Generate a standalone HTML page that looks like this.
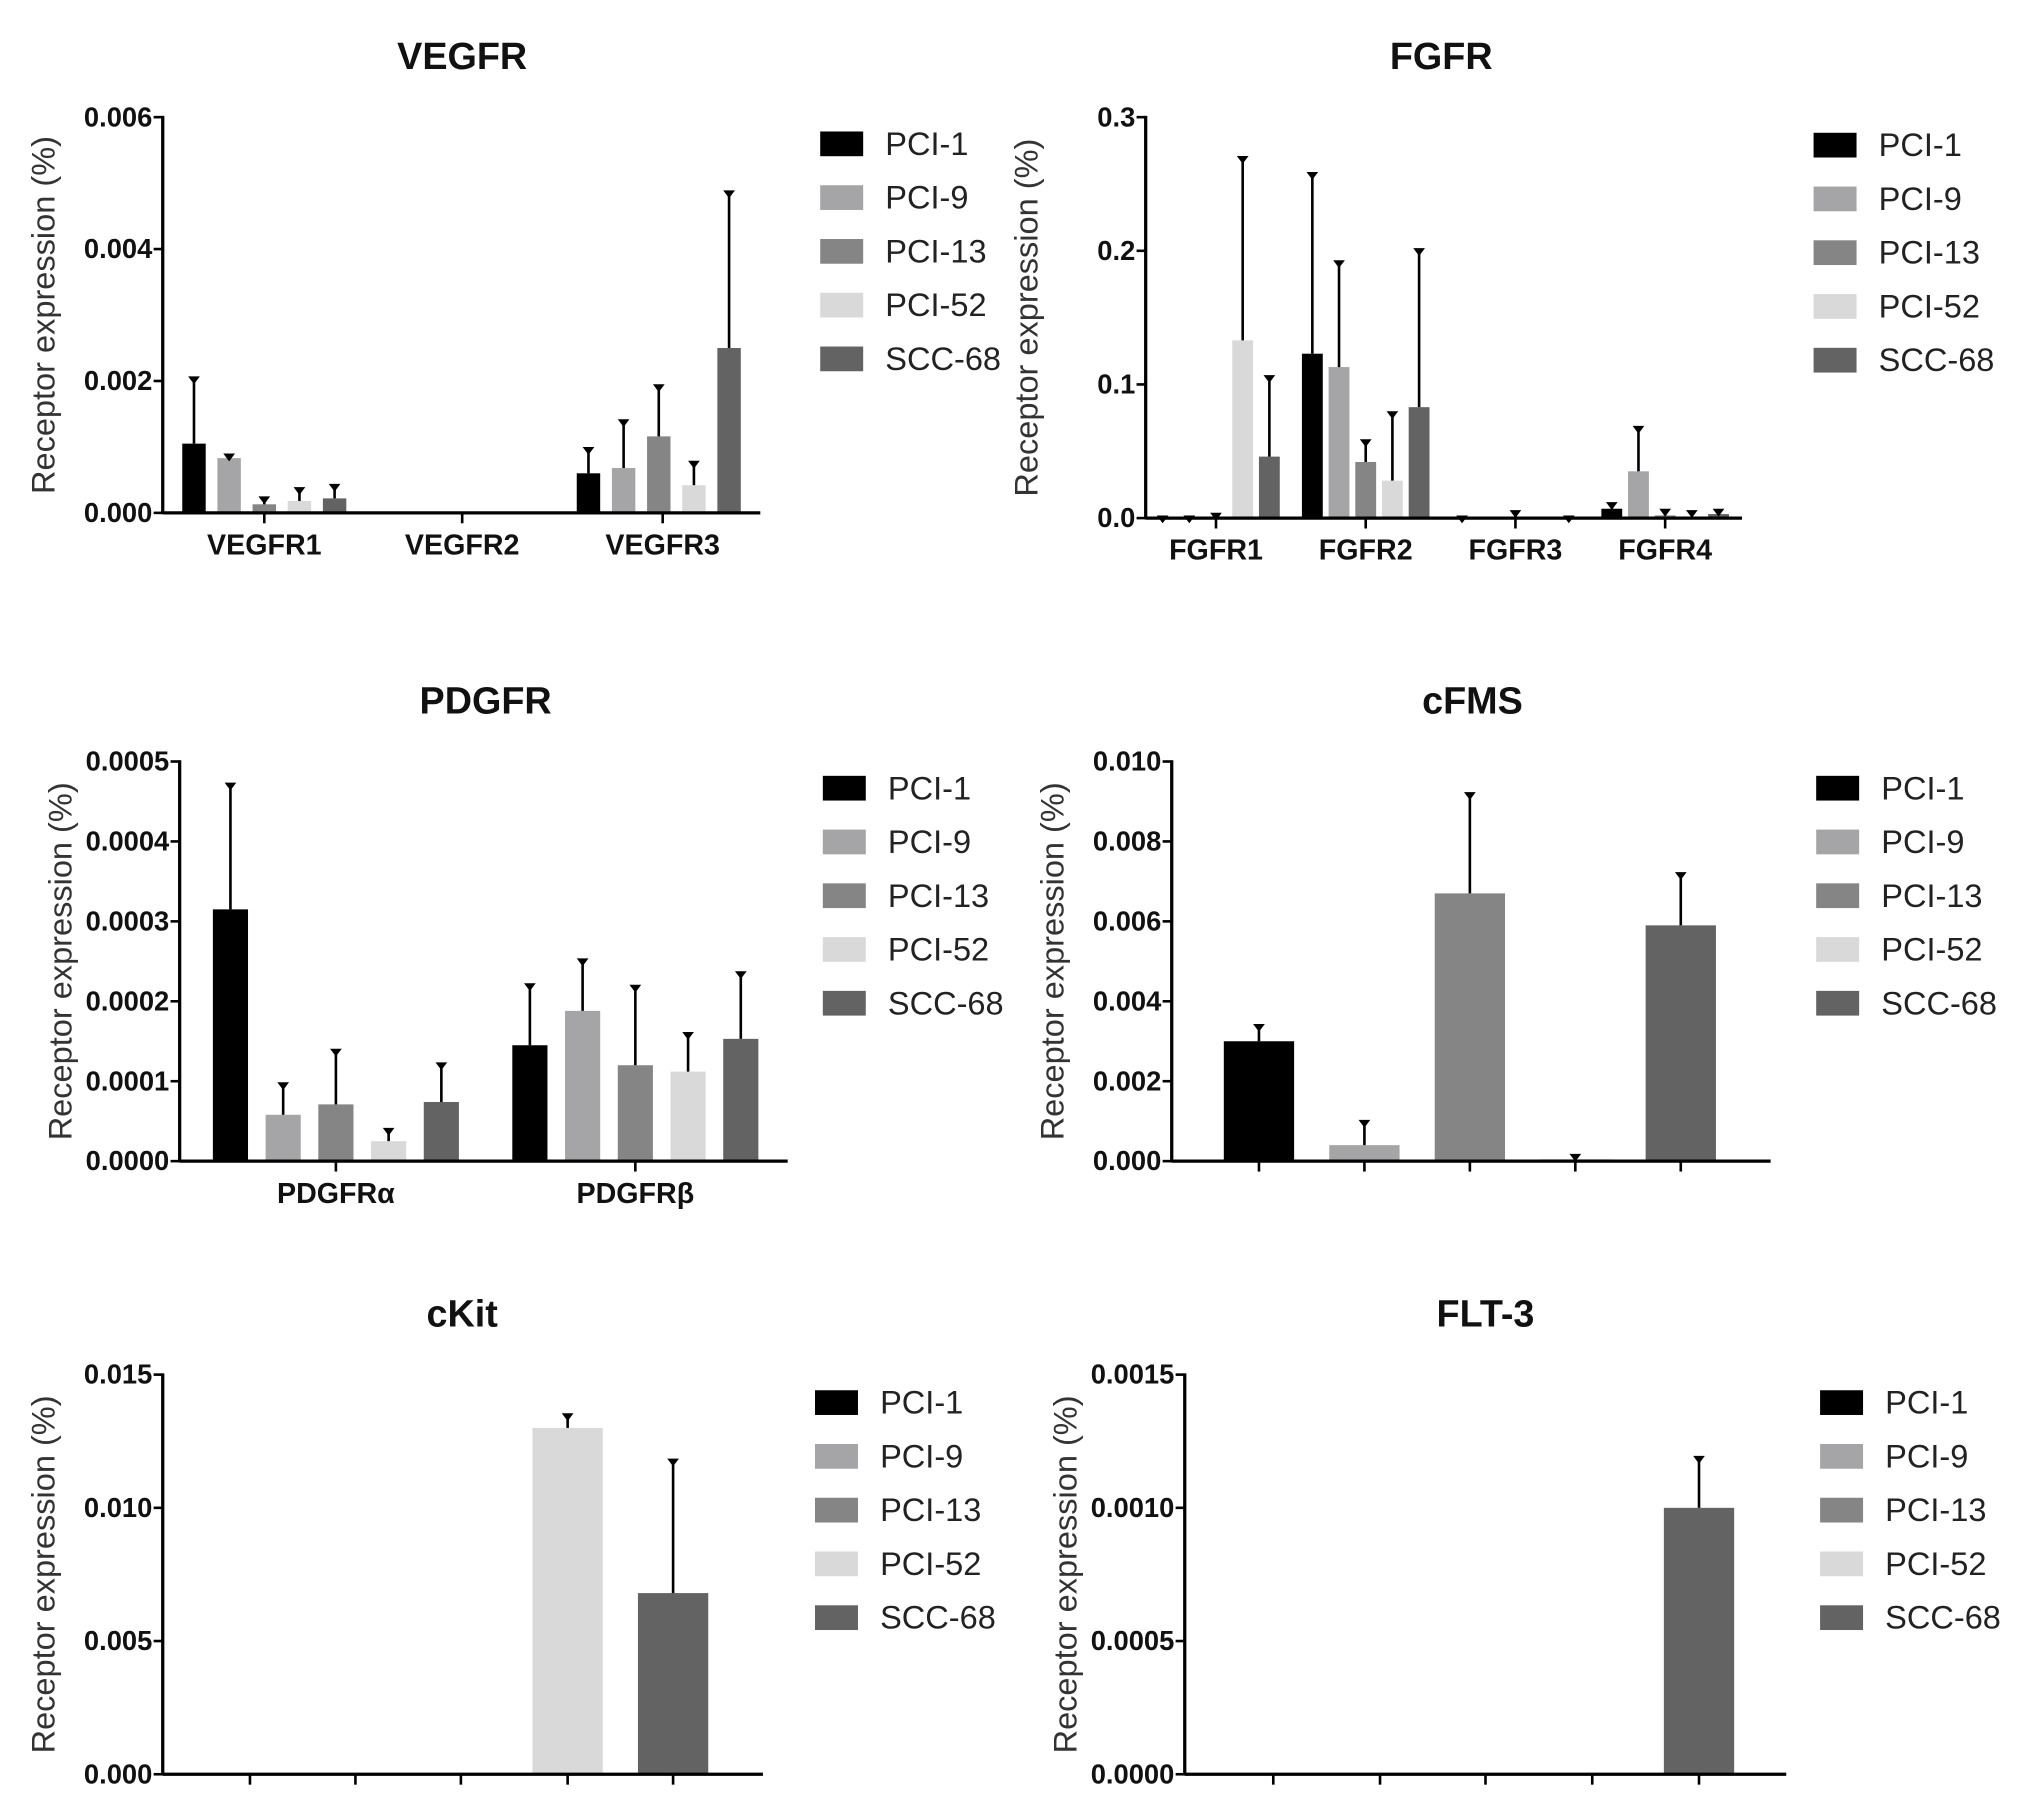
<!DOCTYPE html>
<html><head><meta charset="utf-8"><style>
html,body{margin:0;padding:0;background:#fff;}
svg{display:block;}
text{font-family:"Liberation Sans",Arial,sans-serif;}
</style></head><body>
<svg id="fig" width="2031" height="1812" viewBox="0 0 1560 1392" preserveAspectRatio="none" xmlns="http://www.w3.org/2000/svg"></svg>
<script>
const series = ["PCI-1","PCI-9","PCI-13","PCI-52","SCC-68"];
const colors = ["#000000","#a5a5a8","#858585","#d9d9d9","#636363"];

const vegfrCats = ["VEGFR1","VEGFR2","VEGFR3"];
const vegfrVals = [[0.00105,0.00083,0.00013,0.00018,0.00022],[0,0,0,0,0],[0.0006,0.00068,0.00116,0.00042,0.0025]];
const vegfrErr = [[0.00205,0.00088,0.00023,0.00037,0.00042],[0,0,0,0,0],[0.00098,0.0014,0.00193,0.00077,0.00487]];
const vegfrTicks = ["0.000","0.002","0.004","0.006"];

const fgfrCats = ["FGFR1","FGFR2","FGFR3","FGFR4"];
const fgfrVals = [[0,0,0.001,0.133,0.046],[0.123,0.113,0.042,0.028,0.083],[0.0005,0,0.001,0,0],[0.007,0.035,0.002,0,0.003]];
const fgfrErr = [[0.001,0.001,0.003,0.27,0.106],[0.258,0.192,0.058,0.079,0.201],[0.001,0,0.005,0,0.001],[0.011,0.068,0.006,0.005,0.006]];
const fgfrTicks = ["0.0","0.1","0.2","0.3"];

const pdgfrCats = ["PDGFRα","PDGFRβ"];
const pdgfrVals = [[0.000315,0.000058,0.000071,0.000025,0.000074],[0.000145,0.000188,0.00012,0.000112,0.000153]];
const pdgfrErr = [[0.000472,0.000097,0.000139,0.00004,0.000122],[0.000221,0.000252,0.000219,0.00016,0.000236]];
const pdgfrTicks = ["0.0000","0.0001","0.0002","0.0003","0.0004","0.0005"];

const cfmsVals = [0.003,0.0004,0.0067,0.00005,0.0059];
const cfmsErr = [0.0034,0.001,0.0092,0.00015,0.0072];
const cfmsTicks = ["0.000","0.002","0.004","0.006","0.008","0.010"];

const ckitVals = [0,0,0,0.013,0.0068];
const ckitErr = [0,0,0,0.0135,0.0118];
const ckitTicks = ["0.000","0.005","0.010","0.015"];

const flt3Vals = [0,0,0,0,0.001];
const flt3Err = [0,0,0,0,0.00119];
const flt3Ticks = ["0.0000","0.0005","0.0010","0.0015"];

const NS="http://www.w3.org/2000/svg";
const svg=document.getElementById('fig');
function mk(tag,attrs,parent){const e=document.createElementNS(NS,tag);for(const k in attrs)e.setAttribute(k,attrs[k]);(parent||svg).appendChild(e);return e;}

function panel(o){
  const g=mk('g',{});
  
  
  const ymax=parseFloat(o.ticks[o.ticks.length-1]);
  const y=v=>o.y0-(v/ymax)*(o.y0-o.y1);
  const t=mk('text',{x:o.titleX,y:o.y1-37,'font-size':29,'font-weight':'bold','text-anchor':'middle',fill:'#111'},g);
  t.textContent=o.title;
  
  
  const yt=mk('text',{transform:`translate(${o.ax-83},${(o.y0+o.y1)/2}) rotate(-90)`,'font-size':25,'text-anchor':'middle',fill:'#333'},g);
  yt.textContent="Receptor expression (%)";
  
  
  o.groups.forEach((grp,gi)=>{
    grp.vals.forEach((v,si)=>{
      const cx=grp.centers[si];
      const top=y(v);
      const r=mk('rect',{x:cx-o.bw/2,y:top,width:o.bw,height:Math.max(0,o.y0-top),fill:colors[si]},g);
      
      
      const e=grp.errs[si];
      if(e>v){
        const et=y(e);
        const l=mk('line',{x1:cx,x2:cx,y1:top,y2:et,stroke:'#000','stroke-width':2},g);
        
        
        mk('path',{d:`M${cx-4.5},${et-1} L${cx+4.5},${et-1} L${cx},${et+5} Z`,fill:'#000'},g);
      }
    });
  });
  const ya=mk('line',{x1:o.ax,x2:o.ax,y1:o.y1-1,y2:o.y0+1,stroke:'#000','stroke-width':2.5},g);
  
  
  const xa=mk('line',{x1:o.ax,x2:o.xend,y1:o.y0,y2:o.y0,stroke:'#000','stroke-width':2.5},g);
  
  
  o.ticks.forEach(tk=>{
    const yy=y(parseFloat(tk));
    mk('line',{x1:o.ax-7,x2:o.ax,y1:yy,y2:yy,stroke:'#000','stroke-width':2},g);
    const tl=mk('text',{x:o.ax-8,y:yy+7,'font-size':21,'font-weight':'bold','text-anchor':'end',fill:'#111'},g);
    tl.textContent=tk;
    
    
  });
  o.xticks.forEach((xx,i)=>{
    mk('line',{x1:xx,x2:xx,y1:o.y0,y2:o.y0+8,stroke:'#000','stroke-width':2},g);
    if(o.cats){
      const cl=mk('text',{x:xx,y:o.y0+32,'font-size':22,'font-weight':'bold','text-anchor':'middle',fill:'#111'},g);
      cl.textContent=o.cats[i];
      
      
    }
  });
  series.forEach((s,i)=>{
    const ly=o.legY+i*41.3;
    const lg=mk('g',{},g);
    
    
    mk('rect',{x:o.legX,y:ly-9,width:33,height:19,fill:colors[i]},lg);
    const lt=mk('text',{x:o.legTX,y:ly+9,'font-size':25,fill:'#222'},lg);
    lt.textContent=s;
  });
}

function grouped(centers,pitch,vals,errs){
  return centers.map((c,gi)=>({centers:[-2,-1,0,1,2].map(k=>c+k*pitch),vals:vals[gi],errs:errs[gi]}));
}

panel({name:'vegfr',title:'VEGFR',titleX:355,ax:125,y0:394,y1:90,xend:584,ticks:vegfrTicks,cats:vegfrCats,
  xticks:[203,355,509],bw:18,groups:grouped([203,355,506],27,vegfrVals,vegfrErr),legX:630,legTX:680,legY:110});
panel({name:'fgfr',title:'FGFR',titleX:1107,ax:880,y0:398,y1:90,xend:1338,ticks:fgfrTicks,cats:fgfrCats,
  xticks:[934,1049,1164,1279],bw:16,groups:grouped([934,1049,1164,1279],20.5,fgfrVals,fgfrErr),legX:1393,legTX:1443,legY:111});
panel({name:'pdgfr',title:'PDGFR',titleX:373,ax:138,y0:892,y1:585,xend:605,ticks:pdgfrTicks,cats:pdgfrCats,
  xticks:[258,488],bw:27,groups:grouped([258,488],40.5,pdgfrVals,pdgfrErr),legX:632,legTX:682,legY:605});
panel({name:'cfms',title:'cFMS',titleX:1131,ax:900,y0:892,y1:585,xend:1360,ticks:cfmsTicks,cats:null,
  xticks:[967,1048,1129,1210,1291],bw:54,groups:[{centers:[967,1048,1129,1210,1291],vals:cfmsVals,errs:cfmsErr}],legX:1395,legTX:1445,legY:605});
panel({name:'ckit',title:'cKit',titleX:355,ax:125,y0:1363,y1:1056,xend:586,ticks:ckitTicks,cats:null,
  xticks:[192,273,354,436,517],bw:54,groups:[{centers:[192,273,354,436,517],vals:ckitVals,errs:ckitErr}],legX:626,legTX:676,legY:1077});
panel({name:'flt3',title:'FLT-3',titleX:1141,ax:910,y0:1363,y1:1056,xend:1372,ticks:flt3Ticks,cats:null,
  xticks:[978,1060,1141,1223,1305],bw:54,groups:[{centers:[978,1060,1141,1223,1305],vals:flt3Vals,errs:flt3Err}],legX:1398,legTX:1448,legY:1077});
</script>
</body></html>
